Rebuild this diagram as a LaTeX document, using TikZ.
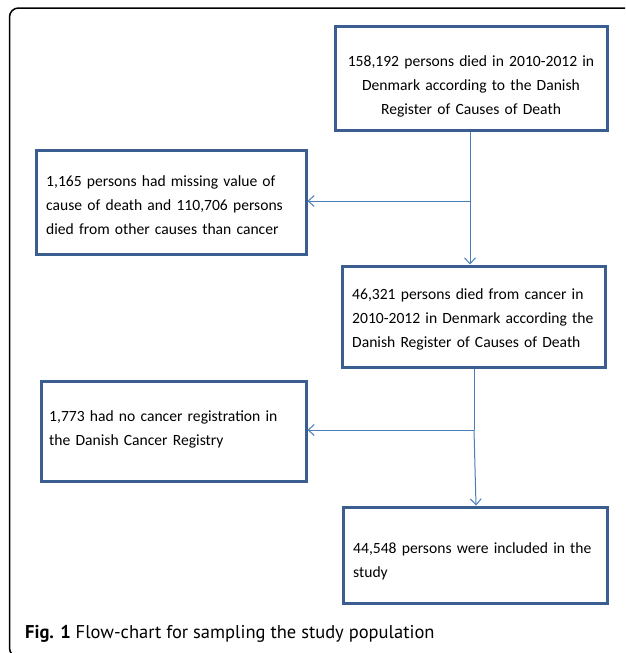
\documentclass[tikz,border=0pt]{standalone}
\usepackage{fontspec}
\setmainfont{Carlito}
\newfontfamily\capfont{PT Sans}
\usetikzlibrary{arrows.meta}
\definecolor{boxblue}{HTML}{3B5E91}
\definecolor{arrblue}{HTML}{4A7EBB}
\tikzset{
  box/.style={draw=boxblue, line width=3pt, rectangle, inner sep=0pt},
  txt/.style={inner sep=0pt, align=left, anchor=base west, text width=250pt,
    font=\fontsize{15.6}{24}\selectfont},
  ctxt/.style={txt, align=center, anchor=base},
  arr/.style={draw=arrblue, line width=1pt, -{Straight Barb[length=6pt,width=11pt]}},
  plain/.style={draw=arrblue, line width=1pt},
  frame/.style={draw=black, line width=1.5pt, rounded corners=9pt}
}
\begin{document}
\begin{tikzpicture}[x=1pt,y=-1pt]
\useasboundingbox (0,0) rectangle (625,653);
\begin{scope}
\clip (0,0) rectangle (625,653);
\draw[frame] (9.5,8) rectangle (660,657);
\end{scope}
% boxes
\node[box, minimum width=272pt, minimum height=104pt] (b1) at (471,78) {};
\node[box, minimum width=270pt, minimum height=104pt] (b2) at (171,202) {};
\node[box, minimum width=263pt, minimum height=101pt] (b3) at (473.5,316.5) {};
\node[box, minimum width=265pt, minimum height=100pt] (b4) at (173.5,431) {};
\node[box, minimum width=264pt, minimum height=96pt] (b5) at (475,555) {};
% texts
\node[ctxt, text width=268pt] (t1) at (471,66)
  {158,192 persons died in 2010-2012 in\\Denmark according to the Danish\\Register of Causes of Death};
\node[txt] (t2) at (46,186)
  {1,165 persons had missing value of\\cause of death and 110,706 persons\\died from other causes than cancer};
\node[txt] (t3) at (352,299)
  {46,321 persons died from cancer in\\2010-2012 in Denmark according the\\Danish Register of Causes of Death};
\node[txt] (t4) at (49,421)
  {1,773 had no cancer registration in\\the Danish Cancer Registry};
\node[txt] (t5) at (353,553)
  {44,548 persons were included in the\\study};
% connectors
\coordinate (j1) at (470,201);
\coordinate (j2) at (474,430);
\draw[plain] (b1.south -| j1) -- (j1);
\draw[arr] (j1) -- (b3.north -| j1);
\draw[arr] (j1) -- (b2.east |- j1);
\draw[plain] (b3.south -| j2) -- (j2);
\draw[arr] (j2) -- ([xshift=2pt]b5.north -| j2);
\draw[arr] (j2) -- (b4.east |- j2);
% caption
\node[anchor=base west, inner sep=0pt, font=\capfont\fontsize{18.5}{22}\selectfont] (cap) at (25,638)
  {\textbf{Fig. 1} Flow-chart for sampling the study population};
\end{tikzpicture}
\end{document}
